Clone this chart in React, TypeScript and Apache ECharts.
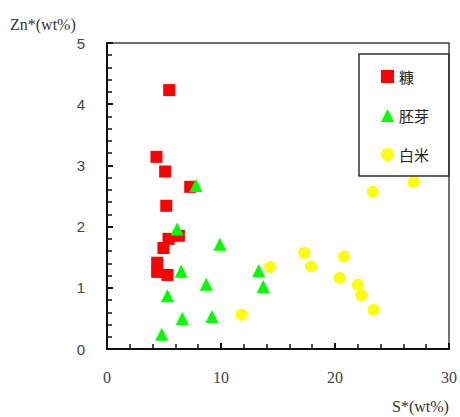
import React, { useEffect, useRef } from "react";
import * as echarts from "echarts";

const seriesNames = ["糠", "胚芽", "白米"];
const bran: number[][] = [
  [5.46, 4.23], [4.34, 3.14], [5.1, 2.9], [7.3, 2.65], [5.2, 2.34],
  [6.3, 1.85], [5.4, 1.8], [4.95, 1.65], [4.4, 1.41], [4.4, 1.26], [5.3, 1.21],
];
const germ: number[][] = [
  [7.8, 2.67], [6.15, 1.96], [9.9, 1.71], [6.5, 1.27], [8.7, 1.06], [5.3, 0.87],
  [6.6, 0.5], [9.2, 0.53], [4.8, 0.24], [13.3, 1.28], [13.7, 1.02],
];
const rice: number[][] = [
  [11.8, 0.56], [14.3, 1.34], [17.3, 1.57], [17.9, 1.35], [20.8, 1.51],
  [20.4, 1.16], [22.0, 1.05], [22.3, 0.88], [23.4, 0.64], [23.3, 2.57], [26.9, 2.73],
];
const xTitle = "S*(wt%)";
const yTitle = "Zn*(wt%)";

export default function App() {
  const ref = useRef<HTMLDivElement>(null);
  useEffect(() => {
    const chart = echarts.init(ref.current!, null, { renderer: "svg" });
    const L = 107, T = 43, R = 453, B = 349;
    chart.setOption({
      animation: false,
      backgroundColor: "#fff",
      grid: {
        left: L, top: T, right: 460 - R, bottom: 417 - B,
        show: true, borderColor: "#444", borderWidth: 1.5,
      },
      xAxis: {
        type: "value", min: 0, max: 30, interval: 10,
        axisLine: { show: true, onZero: false, lineStyle: { color: "#111", width: 2 } },
        axisTick: { show: true, inside: true, length: 6, lineStyle: { color: "#111", width: 2 } },
        minorTick: { show: true, splitNumber: 5, length: 5, lineStyle: { color: "#111", width: 1.5 } },
        splitLine: { show: false },
        axisLabel: { margin: 20, fontFamily: "Liberation Serif", fontSize: 16, color: "#444" },
      },
      yAxis: {
        type: "value", min: 0, max: 5, interval: 1,
        axisLine: { show: true, onZero: false, lineStyle: { color: "#111", width: 2 } },
        axisTick: { show: true, inside: true, length: 6, lineStyle: { color: "#111", width: 2 } },
        minorTick: { show: true, splitNumber: 5, length: 5, lineStyle: { color: "#111", width: 1.5 } },
        splitLine: { show: false },
        axisLabel: { margin: 22, fontFamily: "Liberation Sans", fontSize: 15, color: "#444" },
      },
      legend: {
        orient: "vertical",
        left: 376, top: 64,
        itemWidth: 13, itemHeight: 13, itemGap: 24,
        textStyle: { fontFamily: "Noto Sans CJK JP", fontSize: 15, color: "#222" },
        data: [
          { name: seriesNames[0], icon: "rect" },
          { name: seriesNames[1], icon: "triangle" },
          { name: seriesNames[2], icon: "circle" },
        ],
      },
      graphic: [
        { type: "rect", shape: { x: 359, y: 54, width: 90, height: 122 }, style: { fill: "transparent", stroke: "#333", lineWidth: 1.5 }, z: 10 },
        { type: "text", x: 10, y: 16, style: { text: yTitle, fontFamily: "Liberation Serif", fontSize: 16, fill: "#333" } },
        { type: "text", x: 392, y: 398, style: { text: xTitle, fontFamily: "Liberation Serif", fontSize: 16, fill: "#333" } },
      ],
      series: [
        { name: seriesNames[0], type: "scatter", data: bran, symbol: "rect", symbolSize: 12, itemStyle: { color: "#ff0000", opacity: 1 } },
        { name: seriesNames[1], type: "scatter", data: germ, symbol: "triangle", symbolSize: 13, itemStyle: { color: "#00ff00", opacity: 1 } },
        { name: seriesNames[2], type: "scatter", data: rice, symbol: "circle", symbolSize: 12, itemStyle: { color: "#ffff00", opacity: 1 } },
      ],
    });
    return () => chart.dispose();
  }, []);
  return <div ref={ref} style={{ width: 460, height: 417, position: "absolute", left: 0, top: 0 }} />;
}
